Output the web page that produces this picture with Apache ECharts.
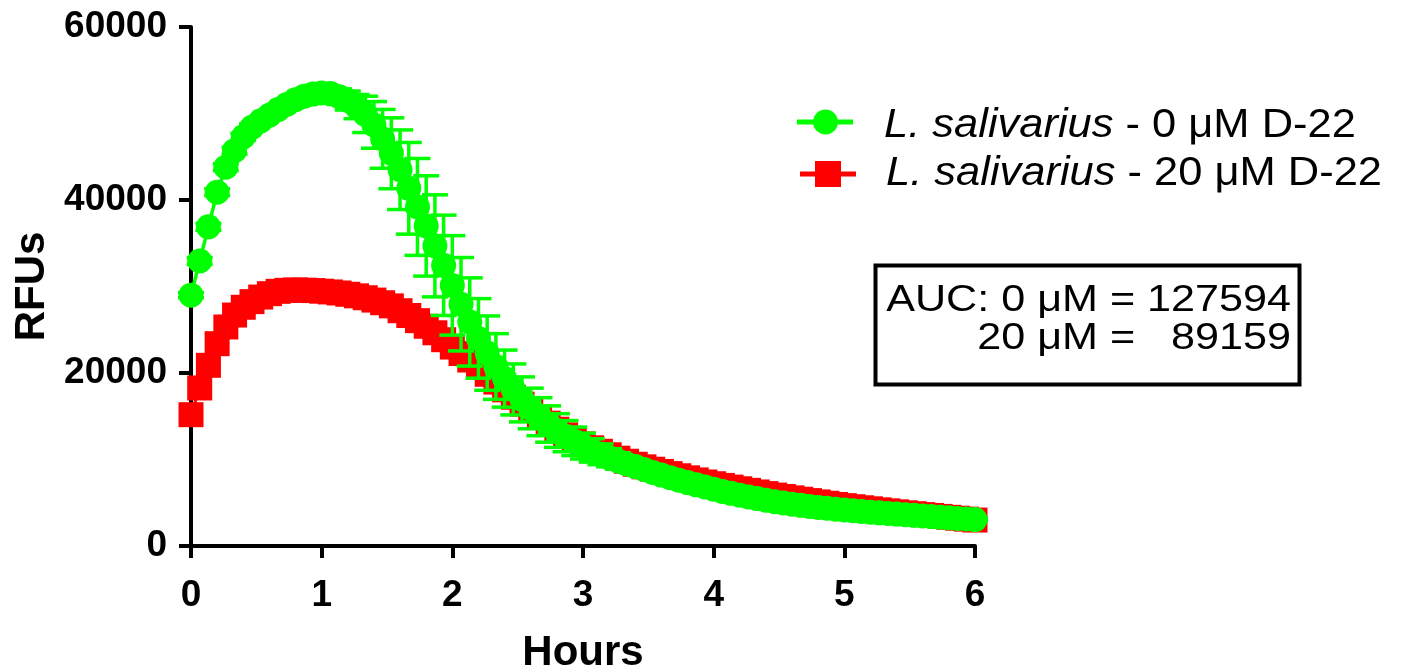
<!DOCTYPE html>
<html><head><meta charset="utf-8">
<script src="https://cdn.jsdelivr.net/npm/echarts@6/dist/echarts.min.js"></script>
<style>html,body{margin:0;padding:0;background:#fff;overflow:hidden}#c{width:1403px;height:669px}</style>
</head><body><div id="c"></div>
<script>
// time in minutes (every 4 min over 6 h)
const minutes = [0,4,8,12,16,20,24,28,32,36,40,44,48,52,56,60,64,68,72,76,80,84,88,92,96,100,104,108,112,116,120,124,128,132,136,140,144,148,152,156,160,164,168,172,176,180,184,188,192,196,200,204,208,212,216,220,224,228,232,236,240,244,248,252,256,260,264,268,272,276,280,284,288,292,296,300,304,308,312,316,320,324,328,332,336,340,344,348,352,356,360];
const green0uM = [29000,32950,36900,40900,43800,45700,47300,48400,49150,49800,50450,51050,51600,52000,52250,52370,52300,51950,51500,50800,49900,48680,47070,45400,43500,41350,39200,37000,34700,32450,30130,27950,25900,24000,22300,20750,19350,18100,16950,15900,14950,14100,13350,12700,12100,11550,11050,10600,10200,9830,9480,9180,8840,8510,8200,7900,7610,7330,7070,6820,6560,6315,6085,5870,5670,5480,5300,5120,4970,4830,4700,4580,4465,4360,4260,4165,4075,3990,3910,3832,3758,3688,3620,3545,3472,3400,3329,3259,3189,3119,3050];
const green0uMErr = [300,400,400,400,400,400,400,400,400,450,500,500,550,600,650,700,800,900,1100,1400,2100,2700,3400,4100,4600,5300,5600,5800,5900,5800,5750,5400,5100,4600,4300,3800,3300,2950,2600,2350,2200,2100,1950,1800,1650,1500,1350,1200,1050,950,850,750,650,580,520,470,430,400,370,350,330,320,310,300,290,280,270,260,250,240,230,220,210,200,200,190,190,180,180,170,170,160,160,150,150,150,140,140,140,130,130];
const red20uM = [15180,18270,20890,23390,25320,26700,27600,28250,28780,29170,29440,29560,29600,29580,29530,29460,29370,29250,29100,28920,28700,28430,28120,27760,27200,26650,26050,25400,24650,23850,23000,22250,21500,20700,19850,18950,18050,17200,16400,15650,14900,14200,13500,12850,12300,11800,11350,10950,10550,10150,9800,9450,9150,8880,8620,8370,8120,7880,7640,7400,7200,7005,6810,6620,6430,6245,6060,5890,5725,5565,5405,5250,5095,4945,4800,4665,4540,4420,4300,4180,4065,3950,3840,3735,3630,3525,3420,3315,3210,3105,3000];
const xTicks = [0,1,2,3,4,5,6];
const yTicks = [0,20000,40000,60000];
const seriesNames = ['0 μM D-22','20 μM D-22'];
const aucLines = ['AUC: 0 μM = 127594','20 μM =   89159'];

const GREEN = '#00ff00', RED = '#ff0000';
const FONT = '"Liberation Sans", Arial, Helvetica, sans-serif';
const hours = minutes.map(m => m / 60);
const greenData = hours.map((h, i) => [h, green0uM[i]]);
const redData = hours.map((h, i) => [h, red20uM[i]]);
const errData = hours.map((h, i) => [h, green0uM[i] - green0uMErr[i], green0uM[i] + green0uMErr[i]]);

const chart = echarts.init(document.getElementById('c'), null, {renderer: 'canvas'});
chart.setOption({
  animation: false,
  backgroundColor: '#fff',
  grid: {left: 191, top: 27, width: 784, height: 519, containLabel: false, outerBoundsMode: 'none'},
  xAxis: {
    type: 'value', min: xTicks[0], max: xTicks[xTicks.length - 1], interval: 1,
    name: 'Hours', nameLocation: 'middle', nameGap: 86,
    nameTextStyle: {fontFamily: FONT, fontWeight: 'bold', fontSize: 42, color: '#000'},
    axisLine: {show: true, onZero: false, lineStyle: {color: '#000', width: 4}},
    axisTick: {show: true, length: 12, lineStyle: {color: '#000', width: 4}},
    axisLabel: {fontFamily: FONT, fontWeight: 'bold', fontSize: 37, color: '#000', margin: 31},
    splitLine: {show: false}
  },
  yAxis: {
    type: 'value', min: yTicks[0], max: yTicks[yTicks.length - 1], interval: 20000,
    name: 'RFUs', nameLocation: 'middle', nameGap: 137,
    nameTextStyle: {fontFamily: FONT, fontWeight: 'bold', fontSize: 42, color: '#000'},
    axisLine: {show: true, onZero: false, lineStyle: {color: '#000', width: 4}},
    axisTick: {show: true, length: 12, lineStyle: {color: '#000', width: 4}},
    axisLabel: {fontFamily: FONT, fontWeight: 'bold', fontSize: 37, color: '#000', margin: 24,
      formatter: v => String(v)},
    splitLine: {show: false}
  },
  series: [
    {
      name: seriesNames[1], type: 'line', data: redData, z: 2,
      symbol: 'rect', symbolSize: 25, showAllSymbol: true,
      lineStyle: {color: RED, width: 3}, itemStyle: {color: RED},
      emphasis: {disabled: true}
    },
    {
      name: 'err', type: 'custom', data: errData, z: 3,
      renderItem: function (params, api) {
        const x = api.value(0);
        const pLo = api.coord([x, api.value(1)]);
        const pHi = api.coord([x, api.value(2)]);
        const hw = 13;
        const st = {stroke: GREEN, lineWidth: 3.5};
        return {type: 'group', children: [
          {type: 'line', shape: {x1: pLo[0], y1: pLo[1], x2: pHi[0], y2: pHi[1]}, style: st},
          {type: 'line', shape: {x1: pHi[0] - hw, y1: pHi[1], x2: pHi[0] + hw, y2: pHi[1]}, style: st},
          {type: 'line', shape: {x1: pLo[0] - hw, y1: pLo[1], x2: pLo[0] + hw, y2: pLo[1]}, style: st}
        ]};
      }
    },
    {
      name: seriesNames[0], type: 'line', data: greenData, z: 4,
      symbol: 'circle', symbolSize: 25, showAllSymbol: true,
      lineStyle: {color: GREEN, width: 3.5}, itemStyle: {color: GREEN},
      emphasis: {disabled: true}
    }
  ],
  graphic: [
    // legend
    {type: 'line', shape: {x1: 797, y1: 122, x2: 853, y2: 122}, style: {stroke: GREEN, lineWidth: 5}},
    {type: 'circle', shape: {cx: 825.5, cy: 122, r: 12.5}, style: {fill: GREEN}},
    {type: 'text', x: 884, y: 126, scaleX: 1.06, style: {
      text: '{i|L. salivarius} - ' + seriesNames[0], verticalAlign: 'middle', fill: '#000',
      font: '41px ' + FONT,
      rich: {i: {fontStyle: 'italic', fontSize: 41, fontFamily: FONT}}
    }},
    {type: 'line', shape: {x1: 800, y1: 174, x2: 856, y2: 174}, style: {stroke: RED, lineWidth: 5}},
    {type: 'rect', shape: {x: 815, y: 161, width: 26, height: 26}, style: {fill: RED}},
    {type: 'text', x: 886, y: 174, scaleX: 1.06, style: {
      text: '{i|L. salivarius} - ' + seriesNames[1], verticalAlign: 'middle', fill: '#000',
      font: '41px ' + FONT,
      rich: {i: {fontStyle: 'italic', fontSize: 41, fontFamily: FONT}}
    }},
    // AUC box
    {type: 'rect', shape: {x: 875.5, y: 265.5, width: 424, height: 119}, style: {fill: 'none', stroke: '#000', lineWidth: 4}},
    {type: 'text', x: 1291, y: 301, scaleX: 1.15, style: {text: aucLines[0], textAlign: 'right', verticalAlign: 'middle', fill: '#000', font: '37.5px ' + FONT}},
    {type: 'text', x: 1291, y: 339, scaleX: 1.15, style: {text: aucLines[1], textAlign: 'right', verticalAlign: 'middle', fill: '#000', font: '37.5px ' + FONT}}
  ]
});
</script>
</body></html>
